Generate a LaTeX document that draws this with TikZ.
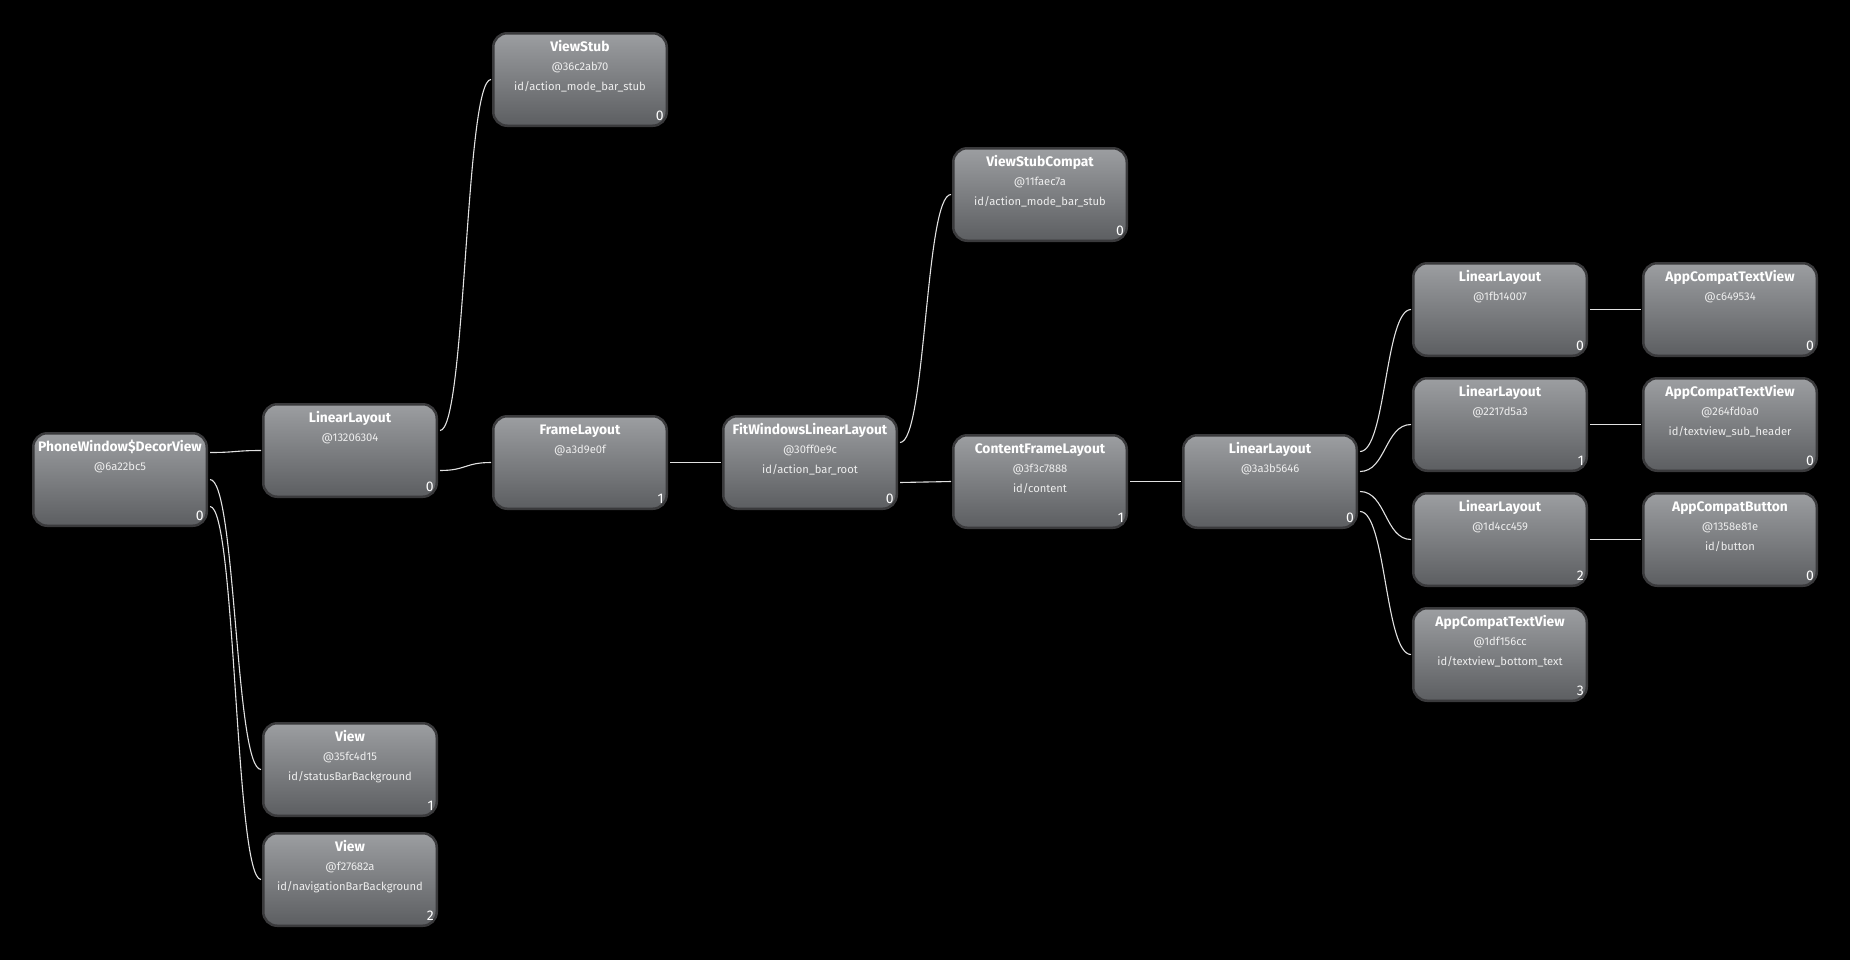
\documentclass[tikz,border=0pt]{standalone}
\usepackage{fontspec}
\setmainfont{Fira Sans}
\usetikzlibrary{calc}
\definecolor{boxtop}{RGB}{156,158,161}
\definecolor{boxbot}{RGB}{92,94,97}
\definecolor{boxborder}{RGB}{58,58,60}
\definecolor{conncol}{RGB}{225,225,225}
\definecolor{subcol}{RGB}{238,238,238}
\tikzset{
  vbox/.style={draw=boxborder, line width=2.5pt, rounded corners=14pt,
    top color=boxtop, bottom color=boxbot, minimum width=173.5pt,
    minimum height=92.5pt, inner sep=0pt},
  ttl/.style={anchor=base, inner sep=0pt, text=white,
    font=\fontsize{13.8}{15}\selectfont\bfseries},
  sub/.style={anchor=base, inner sep=0pt, text=subcol,
    font=\fontsize{11.2}{12}\selectfont},
  num/.style={anchor=base east, inner sep=0pt, text=white,
    font=\fontsize{14}{15}\selectfont},
  conn/.style={draw=conncol, line width=1.1pt}
}
\newcommand{\vnode}[7]{%
  \node[vbox] (#1) at ({#2+88},{#3+47.5}) {};
  \node[ttl] (#1t) at ($(#1.north)+(0,19)$) {#4};
  \node[sub] (#1a) at ($(#1.north)+(0,38.5)$) {#5};
  \if\relax\detokenize{#6}\relax\else
  \node[sub] (#1i) at ($(#1.north)+(0,58.5)$) {#6};\fi
  \node[num] (#1n) at ($(#1.south east)+(-4,-6.5)$) {#7};
}
\begin{document}
\begin{tikzpicture}[x=1pt,y=-1pt]
\useasboundingbox (0,0) rectangle (1850,959);
\fill[black] (-5,-5) rectangle (1855,964);
\vnode{A}{32}{432}{PhoneWindow\$DecorView}{@6a22bc5}{}{0}
\vnode{B}{262}{403}{LinearLayout}{@13206304}{}{0}
\vnode{C}{492}{32}{ViewStub}{@36c2ab70}{id/action\_mode\_bar\_stub}{0}
\vnode{D}{492}{415}{FrameLayout}{@a3d9e0f}{}{1}
\vnode{E}{722}{415}{FitWindowsLinearLayout}{@30ff0e9c}{id/action\_bar\_root}{0}
\vnode{F}{952}{147}{ViewStubCompat}{@11faec7a}{id/action\_mode\_bar\_stub}{0}
\vnode{G}{952}{434}{ContentFrameLayout}{@3f3c7888}{id/content}{1}
\vnode{H}{1182}{434}{LinearLayout}{@3a3b5646}{}{0}
\vnode{I}{1412}{262}{LinearLayout}{@1fb14007}{}{0}
\vnode{J}{1642}{262}{AppCompatTextView}{@c649534}{}{0}
\vnode{K}{1412}{377}{LinearLayout}{@2217d5a3}{}{1}
\vnode{L}{1642}{377}{AppCompatTextView}{@264fd0a0}{id/textview\_sub\_header}{0}
\vnode{M}{1412}{492}{LinearLayout}{@1d4cc459}{}{2}
\vnode{N}{1642}{492}{AppCompatButton}{@1358e81e}{id/button}{0}
\vnode{O}{1412}{607}{AppCompatTextView}{@1df156cc}{id/textview\_bottom\_text}{3}
\vnode{P}{262}{722}{View}{@35fc4d15}{id/statusBarBackground}{1}
\vnode{Q}{262}{832}{View}{@f27682a}{id/navigationBarBackground}{2}
% connectors
\draw[conn] ($(A.east)+(2,-27)$) .. controls +(26,0) and +(-26,0) .. ($(B.west)+(-1,0)$);
\draw[conn] ($(A.east)+(2,0)$) .. controls +(26,0) and +(-26,0) .. ($(P.west)+(-1,0)$);
\draw[conn] ($(A.east)+(2,27)$) .. controls +(26,0) and +(-26,0) .. ($(Q.west)+(-1,0)$);
\draw[conn] ($(B.east)+(2,-20)$) .. controls +(26,0) and +(-26,0) .. ($(C.west)+(-1,0)$);
\draw[conn] ($(B.east)+(2,20)$) .. controls +(26,0) and +(-26,0) .. ($(D.west)+(-1,0)$);
\draw[conn] ($(D.east)+(2,0)$) -- ($(E.west)+(-1,0)$);
\draw[conn] ($(E.east)+(2,-20)$) .. controls +(26,0) and +(-26,0) .. ($(F.west)+(-1,0)$);
\draw[conn] ($(E.east)+(2,20)$) .. controls +(26,0) and +(-26,0) .. ($(G.west)+(-1,0)$);
\draw[conn] ($(G.east)+(2,0)$) -- ($(H.west)+(-1,0)$);
\draw[conn] ($(H.east)+(2,-30)$) .. controls +(26,0) and +(-26,0) .. ($(I.west)+(-1,0)$);
\draw[conn] ($(H.east)+(2,-10)$) .. controls +(26,0) and +(-26,0) .. ($(K.west)+(-1,0)$);
\draw[conn] ($(H.east)+(2,10)$) .. controls +(26,0) and +(-26,0) .. ($(M.west)+(-1,0)$);
\draw[conn] ($(H.east)+(2,30)$) .. controls +(26,0) and +(-26,0) .. ($(O.west)+(-1,0)$);
\draw[conn] ($(I.east)+(2,0)$) -- ($(J.west)+(-1,0)$);
\draw[conn] ($(K.east)+(2,0)$) -- ($(L.west)+(-1,0)$);
\draw[conn] ($(M.east)+(2,0)$) -- ($(N.west)+(-1,0)$);
\end{tikzpicture}
\end{document}
